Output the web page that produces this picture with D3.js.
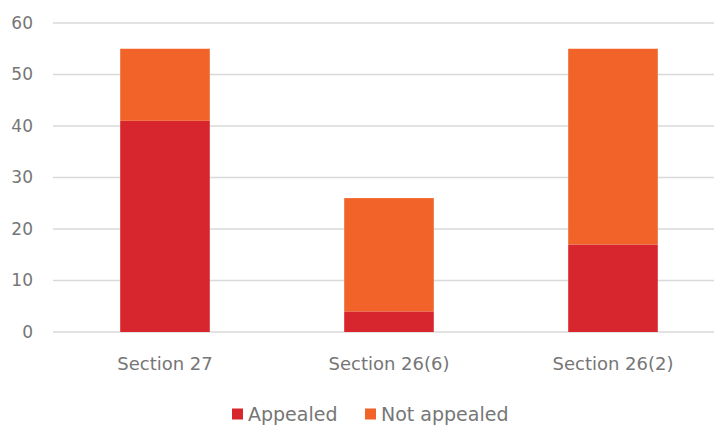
<!DOCTYPE html>
<html>
<head>
<meta charset="utf-8">
<script src="https://cdn.jsdelivr.net/npm/d3@7"></script>
<style>
  body { margin: 0; background: #fff; }
  text { font-family: "DejaVu Sans", sans-serif; fill: #767676; }
</style>
</head>
<body>
<div id="chart"></div>
<script>
// 데이터
const categories = ["Section 27", "Section 26(6)", "Section 26(2)"];
const appealed = [41, 4, 17];
const notAppealed = [14, 22, 38];
const seriesNames = ["Appealed", "Not appealed"];
const yTicks = [0, 10, 20, 30, 40, 50, 60];

const width = 714;
const height = 425;
const colors = ["#d7262e", "#f26329"];

const svg = d3.select("#chart")
    .append("svg")
    .attr("width", width)
    .attr("height", height);

const x = d3.scaleBand()
    .domain(categories)
    .range([53, 725])
    .paddingInner(0.6)
    .paddingOuter(0.3);

const y = d3.scaleLinear()
    .domain([0, 60])
    .range([332, 23]);

// 그리드 라인
svg.selectAll(".grid")
    .data(yTicks)
    .enter()
    .append("line")
    .attr("x1", 53)
    .attr("x2", width)
    .attr("y1", d => y(d))
    .attr("y2", d => y(d))
    .attr("stroke", "#d9d9d9")
    .attr("stroke-width", 1.3);

// y축 라벨
svg.selectAll(".ytick")
    .data(yTicks)
    .enter()
    .append("text")
    .attr("x", 33)
    .attr("y", d => y(d))
    .attr("dy", "0.35em")
    .attr("text-anchor", "end")
    .style("font-size", "17px")
    .text(d => d);

// 스택 데이터
const rows = categories.map((c, i) => ({ cat: c, Appealed: appealed[i], "Not appealed": notAppealed[i] }));
const stacked = d3.stack().keys(seriesNames)(rows);

svg.selectAll(".series")
    .data(stacked)
    .enter()
    .append("g")
    .attr("fill", (d, i) => colors[i])
    .selectAll("rect")
    .data(d => d)
    .enter()
    .append("rect")
    .attr("x", d => x(d.data.cat))
    .attr("width", x.bandwidth())
    .attr("y", d => y(d[1]))
    .attr("height", d => y(d[0]) - y(d[1]));

// x축 라벨
svg.selectAll(".xlabel")
    .data(categories)
    .enter()
    .append("text")
    .attr("x", d => x(d) + x.bandwidth() / 2)
    .attr("y", 364)
    .attr("dy", "0.35em")
    .attr("text-anchor", "middle")
    .style("font-size", "18px")
    .text(d => d);

// 범례
const legendX = [232, 365];
const legend = svg.selectAll(".legend")
    .data(seriesNames)
    .enter()
    .append("g")
    .attr("transform", (d, i) => `translate(${legendX[i]}, 414)`);

legend.append("rect")
    .attr("x", 0)
    .attr("y", -5.5)
    .attr("width", 11)
    .attr("height", 11)
    .attr("fill", (d, i) => colors[i]);

legend.append("text")
    .attr("x", 16)
    .attr("dy", "0.35em")
    .style("font-size", "19px")
    .text(d => d);
</script>
</body>
</html>
